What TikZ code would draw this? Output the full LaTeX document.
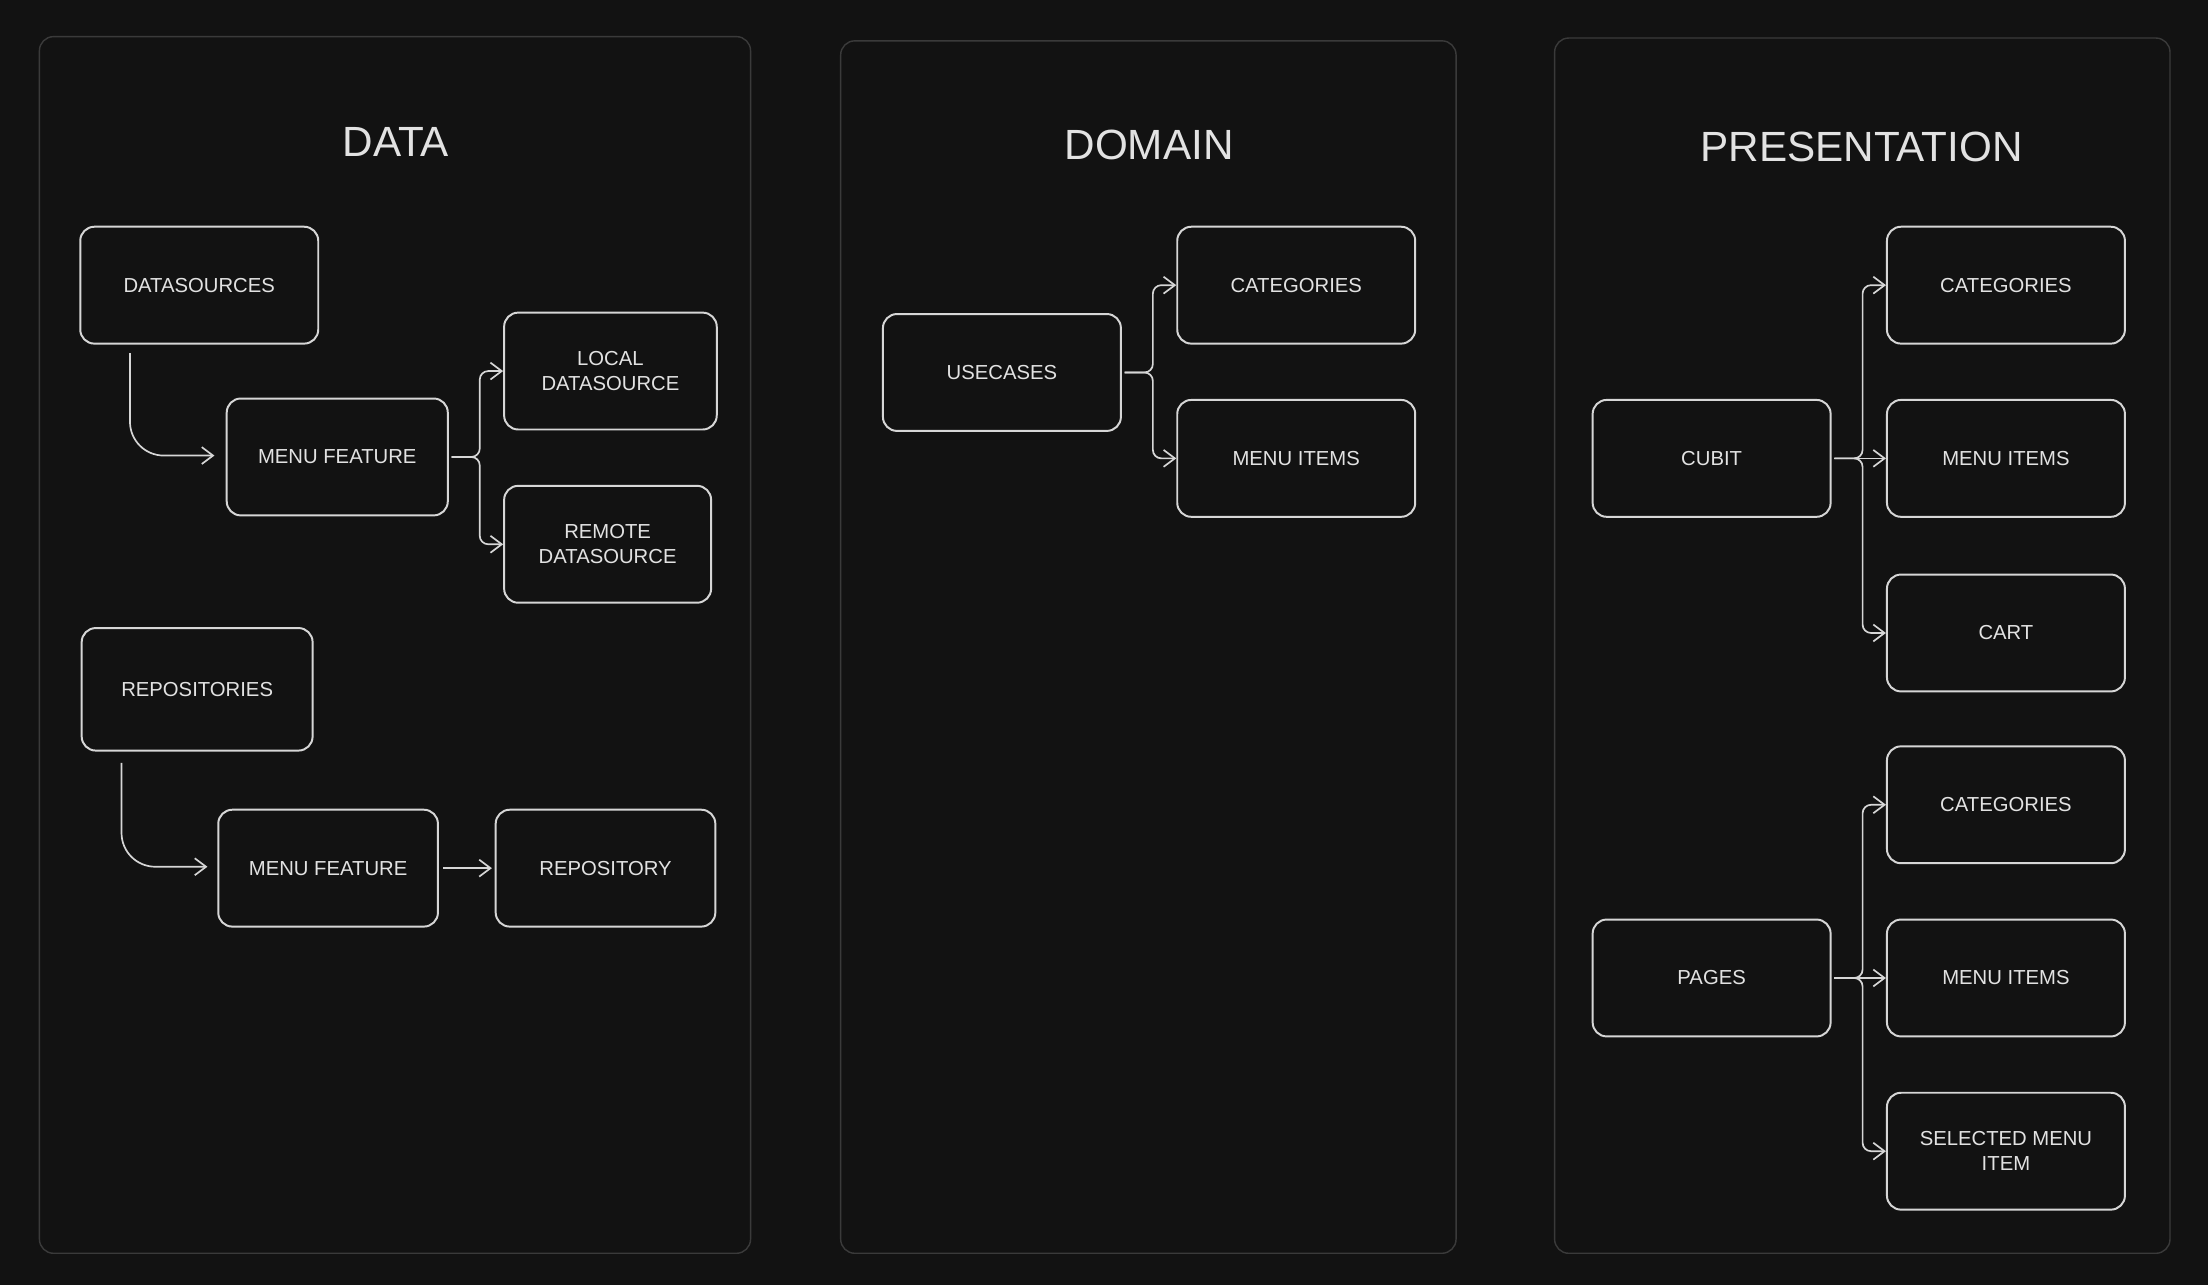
\documentclass[tikz,border=0pt]{standalone}
\usepackage{fontspec}
\setmainfont{Liberation Sans}
\usetikzlibrary{arrows.meta,calc}
\definecolor{bg}{HTML}{121212}
\definecolor{panelc}{HTML}{3A3A3A}
\definecolor{strokec}{HTML}{D6D6D6}
\definecolor{txt}{HTML}{E2E2E2}
\begin{document}
\begin{tikzpicture}[x=0.5pt,y=-0.5pt,
  panelbox/.style={draw=panelc, line width=0.5pt, rounded corners=5pt},
  box/.style={draw=strokec, line width=0.7pt, rounded corners=5pt, fill=bg, text=txt,
    font=\fontsize{7.2}{9}\selectfont, align=center, inner sep=0pt,
    minimum width=84.5pt, minimum height=41.5pt},
  title/.style={text=txt, font=\fontsize{15}{18}\selectfont},
  arr/.style={draw=strokec, line width=0.6pt, -{Straight Barb[length=4pt,width=6pt]}},
  ln/.style={draw=strokec, line width=0.6pt}]
\useasboundingbox (0,0) rectangle (1568,912);
\fill[bg] (-10,-10) rectangle (1578,922);
% panels
\draw[panelbox] (28,26) rectangle (533,890);
\draw[panelbox] (597,29) rectangle (1034,890);
\draw[panelbox] (1104,27) rectangle (1541,890);
% titles
\node[title] (tdata) at (281,101) {DATA};
\node[title] (tdomain) at (816,103) {DOMAIN};
\node[title] (tpres) at (1322,104) {PRESENTATION};
% DATA
\node[box] (ds) at (141.5,202.5) {DATASOURCES};
\node[box, minimum width=78.5pt] (mf1) at (239.5,324.5) {MENU FEATURE};
\node[box, minimum width=75.5pt] (local) at (433.5,263.5) {LOCAL\\DATASOURCE};
\node[box, minimum width=73.5pt] (remote) at (431.5,386.5) {REMOTE\\DATASOURCE};
\node[box, minimum width=82pt, minimum height=43.5pt] (repos) at (140,489.5) {REPOSITORIES};
\node[box, minimum width=78pt] (mf2) at (233,616.5) {MENU FEATURE};
\node[box, minimum width=78pt] (repo) at (430,616.5) {REPOSITORY};
\draw[arr, rounded corners=12pt] ($(ds.south west)+(18pt,-3pt)$) |- ([xshift=-4pt,yshift=0.5pt]mf1.west);
\draw[arr, rounded corners=12pt] ($(repos.south west)+(14.5pt,-4pt)$) |- ([xshift=-3.5pt,yshift=0.5pt]mf2.west);
\draw[arr, rounded corners=3pt] ([xshift=1pt]mf1.east) -- ++(10pt,0) |- (local.west);
\draw[arr, rounded corners=3pt] ([xshift=1pt]mf1.east) -- ++(10pt,0) |- (remote.west);
\draw[arr] ([xshift=1.5pt]mf2.east) -- ([xshift=-1pt]repo.west);
% DOMAIN
\node[box] (uc) at (711.5,264.5) {USECASES};
\node[box] (dcat) at (920.5,202.5) {CATEGORIES};
\node[box] (dmi) at (920.5,325.5) {MENU ITEMS};
\draw[arr, rounded corners=3pt] ([xshift=1pt]uc.east) -- ++(10pt,0) |- (dcat.west);
\draw[arr, rounded corners=3pt] ([xshift=1pt]uc.east) -- ++(10pt,0) |- (dmi.west);
% PRESENTATION
\node[box] (cubit) at (1215.5,325.5) {CUBIT};
\node[box] (pcat) at (1424.5,202.5) {CATEGORIES};
\node[box] (pmi) at (1424.5,325.5) {MENU ITEMS};
\node[box] (cart) at (1424.5,449.5) {CART};
\draw[arr, rounded corners=3pt] ([xshift=1pt]cubit.east) -- ++(10pt,0) |- (pcat.west);
\draw[arr] ([xshift=1pt]cubit.east) -- (pmi.west);
\draw[arr, rounded corners=3pt] ([xshift=1pt]cubit.east) -- ++(10pt,0) |- (cart.west);
\node[box] (pages) at (1215.5,694.5) {PAGES};
\node[box] (pcat2) at (1424.5,571.5) {CATEGORIES};
\node[box] (pmi2) at (1424.5,694.5) {MENU ITEMS};
\node[box] (sel) at (1424.5,817.5) {SELECTED MENU\\ITEM};
\draw[arr, rounded corners=3pt] ([xshift=1pt]pages.east) -- ++(10pt,0) |- (pcat2.west);
\draw[arr] ([xshift=1pt]pages.east) -- (pmi2.west);
\draw[arr, rounded corners=3pt] ([xshift=1pt]pages.east) -- ++(10pt,0) |- (sel.west);
\end{tikzpicture}
\end{document}
